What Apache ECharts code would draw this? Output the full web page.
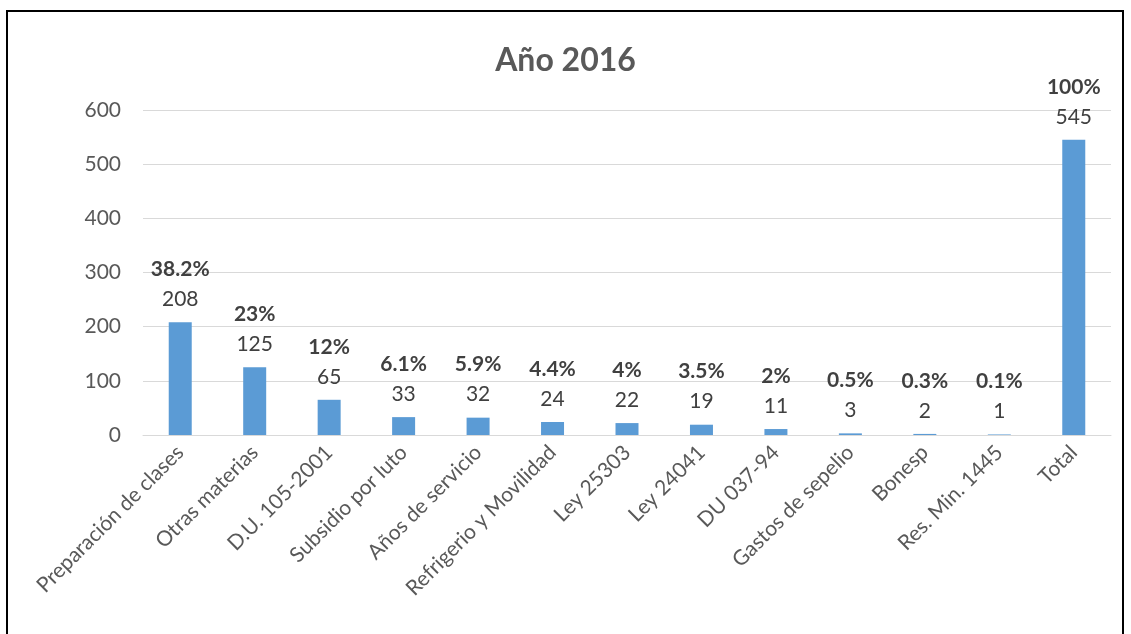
<!DOCTYPE html>
<html>
<head>
<meta charset="utf-8">
<script src="https://cdn.jsdelivr.net/npm/echarts@6/dist/echarts.min.js"></script>
<style>
  body { margin: 0; background: #fff; }
  #frame { position: absolute; left: 6px; top: 10px; width: 1118px; height: 640px; border: 2px solid #000; box-sizing: border-box; }
  #chart { position: absolute; left: 0; top: 0; width: 1131px; height: 634px; }
</style>
</head>
<body>
<div id="chart"></div>
<div id="frame"></div>
<script>
  // datos
  const categories = ['Preparación de clases', 'Otras materias', 'D.U. 105-2001', 'Subsidio por luto',
    'Años de servicio', 'Refrigerio y Movilidad', 'Ley 25303', 'Ley 24041', 'DU 037-94',
    'Gastos de sepelio', 'Bonesp', 'Res. Min. 1445', 'Total'];
  const values = [208, 125, 65, 33, 32, 24, 22, 19, 11, 3, 2, 1, 545];
  const pctLabels = ['38.2%', '23%', '12%', '6.1%', '5.9%', '4.4%', '4%', '3.5%', '2%', '0.5%', '0.3%', '0.1%', '100%'];

  const font = 'Lato, "Open Sans", sans-serif';
  let myChart = echarts.init(document.getElementById('chart'));

  myChart.setOption({
    animation: false,
    title: {
      text: 'Año 2016',
      left: 'center',
      top: 40,
      textStyle: { fontFamily: font, fontSize: 32, fontWeight: 'bold', color: '#595959' }
    },
    grid: { left: 143, right: 20, top: 110, bottom: 199 },
    xAxis: {
      type: 'category',
      data: categories,
      axisLine: { lineStyle: { color: '#d9d9d9' } },
      axisTick: { show: false },
      axisLabel: { rotate: 45, interval: 0, margin: 14, fontFamily: font, fontSize: 21, color: '#595959' }
    },
    yAxis: {
      type: 'value',
      min: 0,
      max: 600,
      interval: 100,
      splitLine: { lineStyle: { color: '#d9d9d9' } },
      axisLabel: { margin: 22, fontFamily: font, fontSize: 21, color: '#595959' }
    },
    series: [{
      type: 'bar',
      data: values,
      barWidth: 23,
      itemStyle: { color: '#5b9bd5' },
      label: {
        show: true,
        position: 'top',
        distance: 8,
        formatter: p => '{p|' + pctLabels[p.dataIndex] + '}\n{v|' + p.value + '}',
        rich: {
          p: { fontFamily: font, fontSize: 21, fontWeight: 'bold', color: '#404040', lineHeight: 30 },
          v: { fontFamily: font, fontSize: 21, color: '#404040', lineHeight: 30 }
        }
      }
    }]
  });
</script>
</body>
</html>
